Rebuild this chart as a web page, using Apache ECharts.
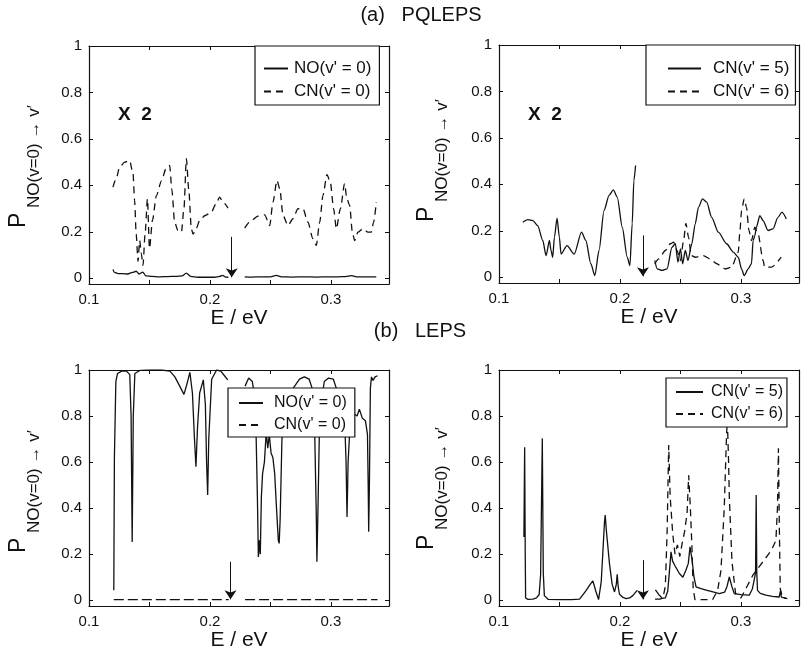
<!DOCTYPE html>
<html><head><meta charset="utf-8">
<script src="https://cdn.jsdelivr.net/npm/echarts@6/dist/echarts.min.js"></script>
<style>html,body{margin:0;padding:0;background:#fff}#c{width:801px;height:653px}</style>
</head><body><div id="c"></div>
<script>
// ---------- axis ticks ----------
const xTickValues = [0.1, 0.15, 0.2, 0.25, 0.3];
const xLabelValues = [0.1, 0.2, 0.3];
const yTickValues = [0, 0.2, 0.4, 0.6, 0.8, 1];
const xRange = [0.1, 0.348];
const yRange = [-0.025, 1];

// ---------- titles / names ----------
const titleA = '(a)   PQLEPS';
const titleB = '(b)   LEPS';
const xName = 'E / eV';
const factorText = 'X  2';
const yNameMain = 'P';
const yNameSub = 'NO(v=0) \u2192 v\u2032';

// ---------- (a) PQLEPS, left: NO(v'=0) solid ----------
const pqNO_1 = [[0.1198,0.037],[0.121,0.025],[0.124,0.02],[0.128,0.02],[0.132,0.018],[0.136,0.025],[0.139,0.03],[0.1415,0.018],[0.1445,0.026],[0.147,0.01],[0.152,0.008],[0.158,0.006],[0.165,0.007],[0.172,0.008],[0.177,0.01],[0.1805,0.022],[0.184,0.008],[0.19,0.004],[0.197,0.004],[0.204,0.004],[0.208,0.008],[0.2105,0.012],[0.213,0.005],[0.2152,0.004]];
const pqNO_2 = [[0.2287,0.006],[0.235,0.005],[0.242,0.006],[0.25,0.006],[0.2549,0.012],[0.259,0.006],[0.268,0.005],[0.278,0.006],[0.288,0.005],[0.298,0.006],[0.306,0.006],[0.312,0.007],[0.317,0.011],[0.321,0.006],[0.33,0.006],[0.3375,0.006]];
// CN(v'=0) dashed
const pqCN0_1 = [[0.1198,0.392],[0.1225,0.43],[0.1253,0.478],[0.1295,0.5],[0.1336,0.507],[0.1364,0.45],[0.1377,0.335],[0.139,0.19],[0.1405,0.073],[0.1419,0.162],[0.1433,0.105],[0.1446,0.055],[0.1465,0.2],[0.1483,0.342],[0.15,0.128],[0.1525,0.25],[0.1557,0.356],[0.16,0.42],[0.1635,0.47],[0.1667,0.486],[0.1685,0.38],[0.1708,0.241],[0.1735,0.205],[0.1764,0.198],[0.1785,0.3],[0.1805,0.515],[0.1825,0.38],[0.1846,0.213],[0.186,0.19],[0.1887,0.215],[0.1915,0.249],[0.196,0.27],[0.2011,0.284],[0.205,0.32],[0.208,0.349],[0.2105,0.33],[0.2149,0.302]];
const pqCN0_2 = [[0.2287,0.216],[0.2342,0.249],[0.2397,0.267],[0.2452,0.273],[0.2494,0.227],[0.2521,0.328],[0.2554,0.421],[0.2577,0.385],[0.2604,0.27],[0.2645,0.227],[0.2686,0.256],[0.2727,0.299],[0.2769,0.299],[0.281,0.241],[0.2851,0.17],[0.2879,0.141],[0.2907,0.241],[0.2934,0.356],[0.2967,0.446],[0.2995,0.414],[0.3022,0.299],[0.3045,0.213],[0.3078,0.299],[0.3113,0.407],[0.3132,0.342],[0.3155,0.313],[0.3177,0.198],[0.3196,0.162],[0.3223,0.198],[0.3264,0.213],[0.3306,0.198],[0.3333,0.198],[0.3353,0.241],[0.3375,0.328]];

// ---------- (a) PQLEPS, right: CN(v'=5) solid ----------
const pqCN5_1 = [[0.1197,0.237],[0.1238,0.248],[0.128,0.244],[0.132,0.222],[0.1362,0.158],[0.1389,0.093],[0.1417,0.158],[0.143,0.115],[0.1444,0.086],[0.1458,0.172],[0.148,0.254],[0.1499,0.172],[0.1513,0.1],[0.1562,0.136],[0.1622,0.1],[0.1682,0.194],[0.1718,0.158],[0.1759,0.058],[0.1792,0.007],[0.1827,0.115],[0.1868,0.287],[0.191,0.352],[0.1945,0.376],[0.1978,0.344],[0.2019,0.215],[0.206,0.086],[0.2082,0.05],[0.2101,0.23],[0.2115,0.416],[0.2129,0.481]];
const pqCN5_2 = [[0.2288,0.072],[0.2307,0.036],[0.2348,0.029],[0.2389,0.036],[0.243,0.129],[0.2458,0.144],[0.2479,0.065],[0.25,0.122],[0.2518,0.058],[0.254,0.115],[0.2562,0.072],[0.2594,0.144],[0.2622,0.23],[0.2649,0.301],[0.2682,0.337],[0.2717,0.323],[0.2758,0.258],[0.2813,0.194],[0.2882,0.144],[0.2937,0.108],[0.2978,0.086],[0.3005,0.036],[0.3027,0.007],[0.306,0.036],[0.3087,0.058],[0.3101,0.158],[0.3115,0.179],[0.3128,0.215],[0.3156,0.265],[0.3183,0.244],[0.3224,0.201],[0.3265,0.208],[0.3306,0.258],[0.3339,0.28],[0.3375,0.251]];
// CN(v'=6) dashed
const pqCN6_2 = [[0.2288,0.058],[0.2321,0.079],[0.2375,0.115],[0.2416,0.144],[0.2444,0.151],[0.2471,0.115],[0.25,0.072],[0.2526,0.158],[0.2545,0.232],[0.2567,0.172],[0.2589,0.093],[0.2622,0.086],[0.269,0.093],[0.2745,0.079],[0.28,0.058],[0.2868,0.036],[0.2923,0.043],[0.2978,0.108],[0.2992,0.201],[0.3005,0.287],[0.3027,0.337],[0.3046,0.301],[0.3066,0.201],[0.3087,0.158],[0.3115,0.215],[0.3142,0.186],[0.3183,0.072],[0.3197,0.043],[0.3251,0.043],[0.3333,0.086]];

// ---------- (b) LEPS, left: NO(v'=0) solid ----------
const lNO_1 = [[0.1205,0.043],[0.121,0.62],[0.1222,0.95],[0.1236,0.985],[0.127,0.995],[0.131,0.995],[0.1337,0.98],[0.1348,0.8],[0.1357,0.253],[0.1366,0.8],[0.1379,0.985],[0.142,0.998],[0.15,1.0],[0.16,1.0],[0.1669,0.995],[0.171,0.97],[0.175,0.93],[0.1785,0.894],[0.181,0.94],[0.1834,0.99],[0.1855,0.9],[0.1872,0.7],[0.1884,0.58],[0.1897,0.75],[0.1915,0.9],[0.1945,0.957],[0.1962,0.85],[0.1972,0.6],[0.1981,0.457],[0.199,0.7],[0.2014,0.96],[0.2055,1.0],[0.209,0.995],[0.212,0.975],[0.2147,0.957]];
const lNO_2 = [[0.229,0.93],[0.232,0.965],[0.235,0.95],[0.2365,0.9],[0.238,0.75],[0.2392,0.45],[0.24,0.188],[0.2408,0.26],[0.2416,0.2],[0.2425,0.45],[0.2435,0.55],[0.245,0.6],[0.2465,0.73],[0.2478,0.66],[0.249,0.72],[0.2505,0.64],[0.252,0.62],[0.2535,0.55],[0.255,0.4],[0.2565,0.26],[0.2572,0.247],[0.258,0.35],[0.2595,0.7],[0.262,0.86],[0.266,0.9],[0.27,0.93],[0.274,0.96],[0.278,0.97],[0.282,0.96],[0.2845,0.92],[0.2865,0.75],[0.2878,0.4],[0.2884,0.167],[0.2893,0.4],[0.2905,0.75],[0.2925,0.88],[0.2945,0.95],[0.298,0.965],[0.302,0.96],[0.3045,0.92],[0.308,0.88],[0.311,0.84],[0.3125,0.6],[0.3133,0.362],[0.3142,0.6],[0.316,0.78],[0.319,0.81],[0.3216,0.8],[0.3235,0.83],[0.326,0.79],[0.3285,0.78],[0.3302,0.72],[0.3308,0.5],[0.3312,0.297],[0.3318,0.5],[0.3326,0.92],[0.3335,0.97],[0.3348,0.955],[0.3365,0.97],[0.3385,0.975]];
// CN(v'=0) dashed
const lCN0_1 = [[0.1205,0.003],[0.16,0.003],[0.2155,0.003]];
const lCN0_2 = [[0.229,0.003],[0.28,0.003],[0.3385,0.003]];

// ---------- (b) LEPS, right: CN(v'=5) solid ----------
const lCN5_1 = [[0.1206,0.275],[0.1212,0.664],[0.1217,0.2],[0.122,0.01],[0.124,0.004],[0.128,0.005],[0.131,0.01],[0.1332,0.025],[0.1344,0.11],[0.1358,0.703],[0.1366,0.12],[0.1375,0.02],[0.1406,0.004],[0.15,0.003],[0.16,0.003],[0.1666,0.005],[0.1721,0.043],[0.1755,0.07],[0.1776,0.084],[0.18,0.04],[0.1823,0.003],[0.1845,0.08],[0.1858,0.203],[0.1872,0.34],[0.1878,0.37],[0.1888,0.3],[0.1913,0.16],[0.1935,0.07],[0.1955,0.036],[0.197,0.07],[0.1977,0.113],[0.1985,0.06],[0.1996,0.026],[0.2025,0.012],[0.2051,0.007],[0.208,0.01],[0.2106,0.02],[0.2142,0.043]];
const lCN5_2 = [[0.2293,0.045],[0.232,0.025],[0.235,0.008],[0.2375,0.01],[0.2395,0.04],[0.2408,0.12],[0.2422,0.21],[0.2435,0.17],[0.2455,0.15],[0.2491,0.116],[0.252,0.1],[0.2545,0.13],[0.2565,0.16],[0.2579,0.232],[0.2595,0.18],[0.2612,0.1],[0.2629,0.058],[0.267,0.05],[0.272,0.043],[0.277,0.036],[0.2821,0.029],[0.2865,0.035],[0.2885,0.06],[0.2904,0.101],[0.2925,0.06],[0.2945,0.029],[0.3,0.024],[0.3069,0.022],[0.3095,0.05],[0.311,0.09],[0.3121,0.12],[0.3126,0.457],[0.3131,0.12],[0.3137,0.043],[0.316,0.03],[0.3206,0.022],[0.326,0.017],[0.3316,0.014],[0.3326,0.04],[0.3334,0.014],[0.3384,0.007]];
// CN(v'=6) dashed
const lCN6_2 = [[0.229,0.005],[0.233,0.005],[0.2355,0.01],[0.2375,0.06],[0.239,0.3],[0.2403,0.674],[0.2415,0.45],[0.2436,0.29],[0.2455,0.2],[0.2475,0.24],[0.2495,0.19],[0.2515,0.25],[0.2535,0.3],[0.2555,0.38],[0.2568,0.543],[0.2582,0.4],[0.2595,0.232],[0.2605,0.05],[0.262,0.003],[0.27,0.003],[0.2766,0.003],[0.2807,0.042],[0.2835,0.13],[0.2862,0.4],[0.2881,0.72],[0.2888,0.78],[0.2898,0.6],[0.2904,0.447],[0.2926,0.167],[0.2956,0.028],[0.3,0.01],[0.305,0.06],[0.31,0.11],[0.315,0.145],[0.32,0.18],[0.3255,0.22],[0.3289,0.26],[0.3302,0.4],[0.331,0.66],[0.3318,0.3],[0.3325,0.05],[0.3345,0.01],[0.3375,0.008]];

// threshold arrows (x, top of arrow)
const arrowX = [0.218, 0.219, 0.217, 0.219];
const arrowTop = [0.178, 0.18, 0.167, 0.174];

// legend names
const nNO0 = "NO(v' = 0)", nCN0 = "CN(v' = 0)", nCN5 = "CN(v' = 5)", nCN6 = "CN(v' = 6)";

// ---------------------------------------------------------
const FONT = '"Liberation Sans", Arial, "DejaVu Sans", sans-serif';
const INK = '#111';
const gap = [[0.222, '-']];
function joinSegs(a, b) { return b ? a.concat(gap, b) : a; }

const grids = [
  {left: 89, top: 46, width: 300, height: 238},
  {left: 499, top: 45, width: 300, height: 238},
  {left: 89, top: 370, width: 300, height: 236},
  {left: 499, top: 370, width: 300, height: 236}
];

const xAxes = [], yAxes = [];
grids.forEach((g, i) => {
  const base = {
    type: 'value', gridIndex: i, min: xRange[0], max: xRange[1],
    splitLine: {show: false},
    axisLine: {show: true, onZero: false, lineStyle: {color: INK, width: 1.2}},
    axisTick: {show: true, inside: true, length: 4, customValues: xTickValues, lineStyle: {color: INK}}
  };
  xAxes.push(Object.assign({}, base, {
    position: 'bottom',
    axisLabel: {show: true, customValues: xLabelValues, margin: 8, fontSize: 15, color: INK, fontFamily: FONT,
      formatter: v => v.toFixed(1)},
    name: xName, nameLocation: 'middle', nameGap: 24,
    nameTextStyle: {fontSize: 21, color: INK, fontFamily: FONT}
  }));
  xAxes.push(Object.assign({}, base, {position: 'top', axisLabel: {show: false}}));
  const ybase = {
    type: 'value', gridIndex: i, min: yRange[0], max: yRange[1],
    splitLine: {show: false},
    axisLine: {show: true, onZero: false, lineStyle: {color: INK, width: 1.2}},
    axisTick: {show: true, inside: true, length: 4, customValues: yTickValues, lineStyle: {color: INK}}
  };
  yAxes.push(Object.assign({}, ybase, {
    position: 'left',
    axisLabel: {show: true, customValues: yTickValues, margin: 7, fontSize: 15, color: INK, fontFamily: FONT,
      formatter: v => (Math.abs(v) < 1e-9 ? '0' : Math.abs(v - 1) < 1e-9 ? '1' : v.toFixed(1))}
  }));
  yAxes.push(Object.assign({}, ybase, {position: 'right', axisLabel: {show: false}}));
});

function mkSeries(name, panel, data, dashed, smooth, dash) {
  return {
    type: 'line', name: name, xAxisIndex: 2 * panel, yAxisIndex: 2 * panel,
    data: data, symbol: 'none', showSymbol: false, connectNulls: false,
    smooth: smooth ? 0.25 : false, smoothMonotone: 'x',
    lineStyle: {color: INK, width: 1.3, type: dashed ? (dash || [7, 5]) : 'solid'},
    itemStyle: {color: INK},
    emphasis: {disabled: true}, silent: true, animation: false
  };
}
function arrow(panel) {
  return {
    silent: true, symbol: ['none', 'arrow'], symbolSize: 9, animation: false,
    lineStyle: {color: INK, width: 1, type: 'solid'}, label: {show: false},
    emphasis: {disabled: true},
    data: [[{coord: [arrowX[panel], arrowTop[panel]]}, {coord: [arrowX[panel], 0.004]}]]
  };
}

const series = [
  Object.assign(mkSeries(nNO0, 0, joinSegs(pqNO_1, pqNO_2), false, true), {markLine: arrow(0)}),
  mkSeries(nCN0, 0, joinSegs(pqCN0_1, pqCN0_2), true, true),
  Object.assign(mkSeries(nCN5, 1, joinSegs(pqCN5_1, pqCN5_2), false, true), {markLine: arrow(1)}),
  mkSeries(nCN6, 1, pqCN6_2, true, true),
  Object.assign(mkSeries(nNO0, 2, joinSegs(lNO_1, lNO_2), false, false), {markLine: arrow(2)}),
  mkSeries(nCN0, 2, joinSegs(lCN0_1, lCN0_2), true, false, [10, 4]),
  Object.assign(mkSeries(nCN5, 3, joinSegs(lCN5_1, lCN5_2), false, false), {markLine: arrow(3)}),
  mkSeries(nCN6, 3, lCN6_2, true, false)
];

function mkLegend(names, left, top, padding, itemWidth, fs, textPad) {
  return {
    show: true, orient: 'vertical', left: left, top: top, padding: padding,
    itemWidth: itemWidth, itemHeight: 14, itemGap: 6,
    backgroundColor: '#fff', borderColor: INK, borderWidth: 1.2,
    data: names, selectedMode: false,
    itemStyle: {opacity: 0},
    textStyle: {fontSize: fs, color: INK, fontFamily: FONT, padding: [0, 0, 0, textPad]}
  };
}
const legends = [
  mkLegend([nNO0, nCN0], 255, 46, [14, 8, 5, 8], 24, 17, 1),
  mkLegend([nCN5, nCN6], 646, 45, [15, 6, 5, 21], 33, 17, 7),
  mkLegend([nNO0, nCN0], 228, 388, [7, 8, 4, 10], 24, 16, 6),
  mkLegend([nCN5, nCN6], 666, 378, [6, 4, 5, 9], 27, 16, 3)
];

function rotText(txt, x, y, fs) {
  return {type: 'text', x: x, y: y, rotation: Math.PI / 2, silent: true,
    style: {text: txt, fontSize: fs, fontFamily: FONT, fill: INK, align: 'left', verticalAlign: 'middle'}};
}
function plainText(txt, x, y, fs, weight) {
  return {type: 'text', x: x, y: y, silent: true,
    style: {text: txt, fontSize: fs, fontWeight: weight || 'normal', fontFamily: FONT, fill: INK,
      align: 'center', verticalAlign: 'middle'}};
}
// y-axis title: big P, then subscript shifted toward the axis
function yTitle(xP, yBottom) {
  return [rotText(yNameMain, xP, yBottom, 23), rotText(yNameSub, xP + 15, yBottom - 20, 17)];
}

const graphic = [
  plainText(titleA, 421, 15, 20),
  plainText(titleB, 420, 331, 20),
  plainText(factorText, 135, 115, 19, 'bold'),
  plainText(factorText, 545, 115, 19, 'bold')
].concat(yTitle(19, 228), yTitle(427, 222), yTitle(19, 553), yTitle(427, 550));

const chart = echarts.init(document.getElementById('c'), null, {renderer: 'canvas'});
chart.setOption({
  animation: false,
  backgroundColor: '#fff',
  grid: grids, xAxis: xAxes, yAxis: yAxes,
  legend: legends, series: series, graphic: graphic
});
</script></body></html>
